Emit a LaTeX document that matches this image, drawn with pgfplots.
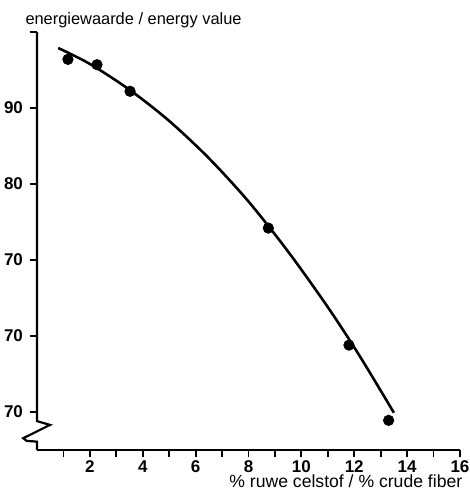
\documentclass[border=0pt]{standalone}
\usepackage{fontspec}
\setmainfont{Liberation Sans}
\usepackage{pgfplots}
\pgfplotsset{compat=1.18}

\begin{document}
\begin{tikzpicture}
\path[use as bounding box] (0,0) rectangle (235pt,247pt);
\begin{axis}[
  scale only axis,
  width=211.5pt, height=209pt,
  at={(18.5pt,22pt)}, anchor=south west,
  xmin=0, xmax=16, ymin=45, ymax=100,
  axis x line=bottom, axis y line=left,
  x axis line style={-, line width=1.1pt},
  y axis line style={draw=none},
  xtick={2,4,...,16},
  minor xtick={1,3,...,15},
  ytick={50,60,70,80,90,100},
  yticklabels={70,70,70,80,90,{}},
  tick align=outside,
  major tick length=3.5pt, minor tick length=3.5pt,
  every tick/.style={black, line width=0.9pt},
  /pgf/number format/assume math mode=true,
  tick label style={font=\bfseries\fontsize{8.5}{10}\selectfont},
  xticklabel style={yshift=1.8pt},
  clip=false,
]
% y axis with break
\draw[line width=1.1pt, line join=miter]
  (axis cs:0,100) -- (axis cs:0,48.8) -- (axis cs:0.49,48.3)
  -- (axis cs:-0.52,46.55) -- (axis cs:-0.39,46.2) -- (axis cs:0,46.1)
  -- (axis cs:0,45);
\addplot[black, line width=1.3pt, smooth] coordinates {
  (0.8,97.9)(2,95.8)(3.5,92.4)(5,88.3)(6.5,83.4)(8,77.7)
  (9.5,71.1)(11,63.8)(12.2,57.4)(13.5,49.9)
};
\addplot[only marks, mark=*, mark size=2.6pt, black] coordinates {
  (1.17,96.4)(2.27,95.7)(3.52,92.2)(8.75,74.2)(11.8,58.8)(13.3,48.9)
};
\node[anchor=base west, font=\fontsize{8.2}{9.5}\selectfont, inner sep=0pt]
  at (axis cs:-0.45,101.05) {energiewaarde / energy value};
\node[anchor=base east, font=\fontsize{8.8}{10}\selectfont, inner sep=0pt]
  at (axis cs:16.1,40.0) {\% ruwe celstof / \% crude fiber};
\end{axis}
\end{tikzpicture}
\end{document}
